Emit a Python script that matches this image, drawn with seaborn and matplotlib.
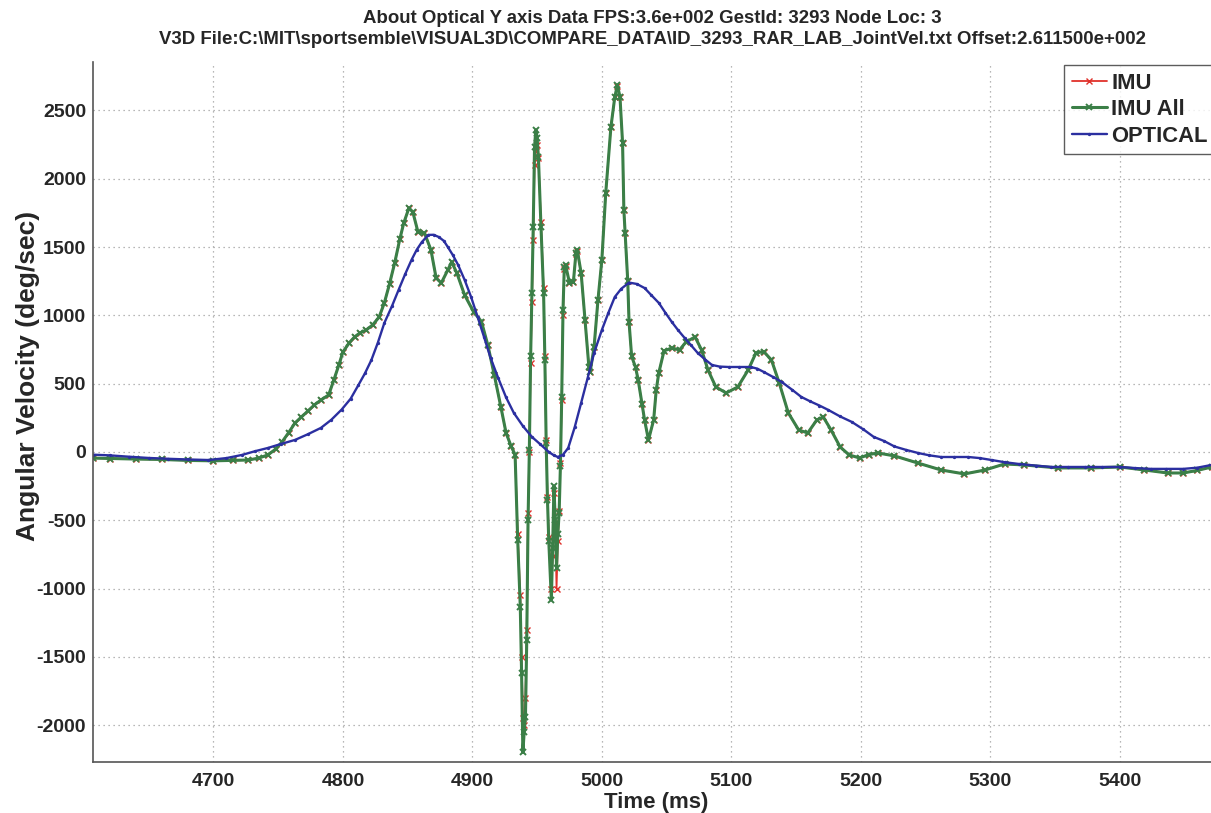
import matplotlib
matplotlib.use("Agg")
import matplotlib.pyplot as plt
import seaborn as sns
import pandas as pd

# ---- IMU All (green) ----
imu_all_t = [4607, 4620, 4640, 4660, 4680, 4700, 4715, 4727, 4735, 4742, 4748, 4753, 4758, 4763,
             4768, 4773, 4778, 4783, 4789, 4793, 4797, 4800, 4805, 4809, 4813, 4818, 4823, 4828,
             4832, 4836, 4840, 4844, 4847, 4851, 4854, 4858, 4863, 4868, 4872, 4876, 4881, 4884,
             4888, 4894, 4901, 4907, 4912, 4917, 4922, 4926, 4930, 4933, 4935, 4937, 4938, 4939,
             4940, 4941, 4942, 4943, 4944, 4945, 4946, 4947, 4948, 4949, 4950, 4951, 4953, 4955,
             4956, 4957, 4958, 4959, 4961, 4962, 4963, 4964, 4965, 4966, 4967, 4968, 4969, 4970,
             4971, 4972, 4975, 4978, 4980, 4981, 4984, 4987, 4990, 4991, 4994, 4997, 5000, 5003,
             5007, 5010, 5012, 5014, 5016, 5017, 5018, 5020, 5021, 5023, 5026, 5028, 5031, 5033,
             5036, 5040, 5042, 5044, 5048, 5054, 5060, 5065, 5072, 5077, 5082, 5088, 5096, 5105,
             5113, 5119, 5125, 5131, 5137, 5144, 5152, 5159, 5166, 5171, 5177, 5184, 5191, 5199,
             5206, 5213, 5226, 5244, 5262, 5280, 5296, 5311, 5326, 5352, 5378, 5400, 5419, 5437,
             5449, 5460, 5471]
imu_all_v = [-45, -48, -52, -55, -62, -65, -62, -59, -45, -22, 20, 73, 140, 212,
             256, 300, 344, 380, 417, 527, 640, 732, 800, 842, 870, 893, 930, 988,
             1091, 1230, 1384, 1560, 1676, 1786, 1757, 1610, 1603, 1479, 1274, 1237, 1332, 1391,
             1310, 1149, 1025, 955, 780, 560, 330, 140, 40, -20, -644, -1135, -1618, -2200,
             -2050, -1940, -1376, -500, 15, 700, 1164, 1647, 2233, 2357, 2300, 2160, 1647, 1164,
             673, 66, -350, -650, -1083, -700, -250, -500, -850, -600, -450, -100, 400, 1040,
             1354, 1369, 1237, 1244, 1457, 1479, 1310, 966, 622, 586, 769, 1113, 1406, 1896,
             2379, 2599, 2687, 2599, 2262, 1772, 1600, 1250, 950, 700, 620, 530, 350, 234,
             88, 234, 454, 580, 740, 761, 747, 805, 842, 747, 600, 476, 432, 476,
             600, 725, 735, 673, 505, 286, 161, 139, 234, 256, 161, 37, -22, -44,
             -20, -7, -29, -81, -132, -161, -132, -88, -95, -117, -117, -110, -132, -154,
             -154, -135, -110]

# ---- IMU (red), mostly hidden beneath IMU All ----
imu_t = imu_all_t
imu_v = [-45, -48, -52, -55, -62, -65, -62, -59, -45, -22, 20, 73, 140, 212,
         256, 300, 344, 380, 417, 527, 640, 732, 800, 842, 870, 893, 930, 988,
         1091, 1230, 1384, 1560, 1676, 1786, 1757, 1610, 1603, 1479, 1274, 1237, 1332, 1391,
         1310, 1149, 1025, 955, 780, 560, 330, 140, 40, -20, -600, -1050, -1500, -1950,
         -2000, -1800, -1300, -450, 0, 650, 1100, 1550, 2100, 2200, 2250, 2150, 1680, 1200,
         700, 90, -330, -620, -1000, -760, -300, -520, -1000, -650, -430, -80, 380, 1000,
         1340, 1360, 1237, 1244, 1450, 1470, 1310, 966, 622, 586, 769, 1113, 1406, 1896,
         2379, 2599, 2680, 2599, 2262, 1772, 1600, 1250, 950, 700, 620, 530, 350, 234,
         88, 234, 454, 580, 740, 761, 747, 805, 842, 747, 600, 476, 432, 476,
         600, 725, 735, 673, 505, 286, 161, 139, 234, 256, 161, 37, -22, -44,
         -20, -7, -29, -81, -132, -161, -132, -88, -95, -117, -117, -110, -132, -154,
         -154, -135, -110]

# ---- OPTICAL (blue) ----
optical_t = [4607, 4620, 4635, 4650, 4665, 4680, 4696, 4710, 4722, 4732, 4742, 4752, 4763, 4773,
             4783, 4791, 4799, 4806, 4812, 4817, 4822, 4827, 4832, 4838, 4843, 4848, 4853, 4857,
             4861, 4866, 4870, 4874, 4878, 4881, 4885, 4889, 4894, 4899, 4904, 4909, 4914, 4920,
             4926, 4932, 4939, 4946, 4952, 4959, 4963, 4966, 4970, 4974, 4979, 4984, 4989, 4994,
             5000, 5005, 5010, 5015, 5021, 5027, 5033, 5038, 5044, 5049, 5054, 5059, 5064, 5069,
             5074, 5080, 5085, 5091, 5098, 5106, 5115, 5120, 5125, 5132, 5139, 5147, 5154, 5161,
             5168, 5175, 5184, 5193, 5202, 5210, 5218, 5226, 5235, 5244, 5253, 5262, 5272, 5283,
             5292, 5301, 5311, 5322, 5335, 5347, 5360, 5373, 5386, 5400, 5412, 5424, 5436, 5449,
             5460, 5471]
optical_v = [-20, -25, -35, -44, -50, -55, -59, -45, -22, 5, 29, 58, 88, 130,
             176, 235, 310, 390, 490, 575, 673, 800, 944, 1070, 1186, 1300, 1406, 1480,
             1537, 1589, 1590, 1574, 1545, 1501, 1440, 1369, 1260, 1135, 990, 842, 690, 540,
             400, 286, 190, 110, 60, 0, -25, -37, -20, 29, 180, 359, 540, 725,
             893, 1018, 1135, 1195, 1240, 1230, 1200, 1150, 1091, 1020, 952, 890, 834, 780,
             725, 675, 637, 625, 622, 622, 622, 610, 586, 550, 512, 455, 403, 370,
             340, 307, 260, 220, 165, 110, 80, 40, 15, -7, -25, -37, -37, -37,
             -45, -59, -75, -88, -100, -110, -110, -110, -110, -110, -118, -124, -124, -124,
             -115, -95]

title_lines = ["About Optical Y axis Data FPS:3.6e+002 GestId: 3293 Node Loc: 3",
               "V3D File:C:\\MIT\\sportsemble\\VISUAL3D\\COMPARE_DATA\\ID_3293_RAR_LAB_JointVel.txt Offset:2.611500e+002"]
x_ticks = [4700, 4800, 4900, 5000, 5100, 5200, 5300, 5400]
y_ticks = [-2000, -1500, -1000, -500, 0, 500, 1000, 1500, 2000, 2500]

sns.set_style("white")
plt.rcParams["font.family"] = ["Liberation Sans", "DejaVu Sans"]
plt.rcParams["font.weight"] = "bold"
plt.rcParams["axes.unicode_minus"] = False

W, H = 1211, 813
fig = plt.figure(figsize=(W / 100, H / 100), dpi=100)
ax = fig.add_axes([93 / W, 1 - 762 / H, (1213 - 93) / W, 700 / H])

red = "#e0312b"
green = "#3b7f47"
blue = "#2b2fa0"

df_imu = pd.DataFrame({"t": imu_t, "v": imu_v})
df_all = pd.DataFrame({"t": imu_all_t, "v": imu_all_v})
df_opt = pd.DataFrame({"t": optical_t, "v": optical_v})

sns.lineplot(data=df_imu, x="t", y="v", ax=ax, color=red, lw=1.3, marker="x",
             markersize=4, markeredgewidth=1.0, markeredgecolor=red, sort=False,
             estimator=None, label="IMU")
sns.lineplot(data=df_all, x="t", y="v", ax=ax, color=green, lw=2.2, marker="x",
             markersize=4.5, markeredgewidth=1.4, markeredgecolor=green, sort=False,
             estimator=None, label="IMU All")
sns.lineplot(data=df_opt, x="t", y="v", ax=ax, color=blue, lw=1.7, marker="o",
             markersize=2.4, markeredgewidth=0, sort=False, estimator=None,
             label="OPTICAL")

ax.set_xlim(4607, 5472)
ax.set_ylim(-2270, 2855)
ax.set_xticks(x_ticks)
ax.set_yticks(y_ticks)
ax.grid(True, linestyle=(0, (1, 3)), color="#a0a0a0", linewidth=0.9)
ax.tick_params(direction="in", length=7, width=1, color="#444444",
               labelsize=14, pad=5)
for lab in ax.get_xticklabels() + ax.get_yticklabels():
    lab.set_fontweight("bold")
ax.tick_params(axis="x", pad=8)
for side in ("top", "right"):
    ax.spines[side].set_visible(False)
for side in ("left", "bottom"):
    ax.spines[side].set_color("#555555")
    ax.spines[side].set_linewidth(1.2)

ax.set_xlabel("Time (ms)", fontsize=16, fontweight="bold")
ax.set_ylabel("Angular Velocity (deg/sec)", fontsize=19, fontweight="bold")
ax.xaxis.set_label_coords(0.503, -0.043)
ax.yaxis.set_label_coords(-0.047, 0.551)

ax.set_title(title_lines[0] + "\n" + title_lines[1], fontsize=13.4,
             fontweight="bold", pad=13, linespacing=1.3, x=0.4995)

leg = ax.legend(loc="upper left", bbox_to_anchor=(1064 / W, 1 - 65 / H),
                bbox_transform=fig.transFigure, borderaxespad=0, frameon=True,
                fancybox=False, prop={"size": 15.8, "weight": "bold"},
                handlelength=1.6, handletextpad=0.2, labelspacing=0.25,
                borderpad=0.35)
leg.get_frame().set_edgecolor("#333333")
leg.get_frame().set_linewidth(1.0)

fig.savefig("out.png", dpi=100)
